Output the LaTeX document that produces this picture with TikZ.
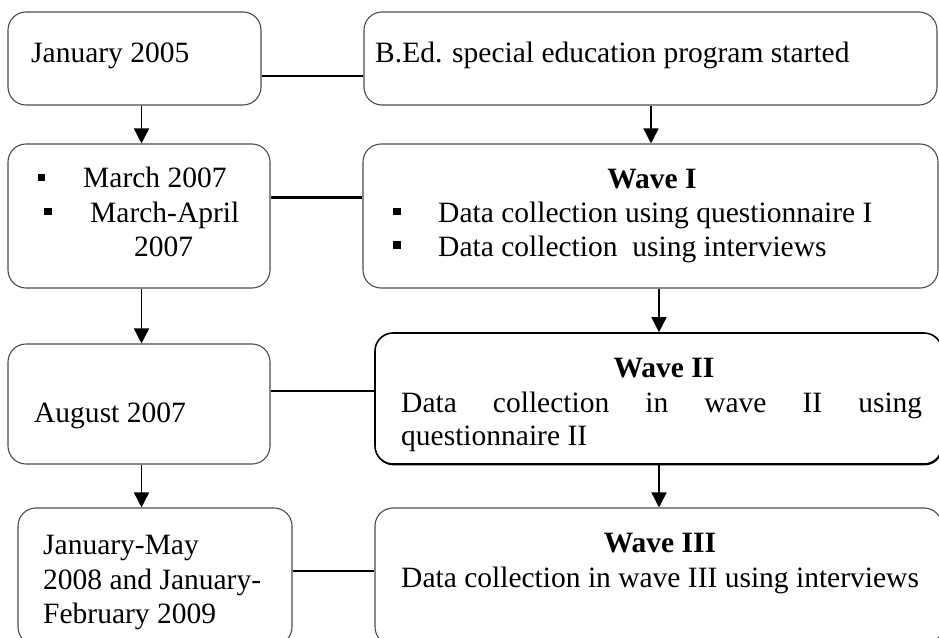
\documentclass[tikz,border=0pt]{standalone}
\usepackage{fontspec}
\setmainfont{Liberation Serif}
\usetikzlibrary{arrows.meta,shadows}
\begin{document}
\begin{tikzpicture}[x=1pt,y=-1pt,
  box/.style={draw=black!70, fill=white, line width=1.1pt, rounded corners=18pt, inner sep=0pt},
  txt/.style={anchor=base west, inner sep=0pt, font=\fontsize{29.5}{34.5}\selectfont},
  ttl/.style={anchor=base, inner sep=0pt, font=\fontsize{29.5}{34.5}\selectfont\bfseries},
  bul/.style={fill=black, inner sep=0pt, minimum size=7.5pt},
  arr/.style={-{Triangle[width=15pt,length=15pt]}, line width=1.6pt},
  link/.style={line width=1.2pt}]
\useasboundingbox (0,0) rectangle (939,637);
% boxes
\node[box, minimum width=253pt, minimum height=93pt] (jan) at (134.5,58.5) {};
\node[box, minimum width=573pt, minimum height=93pt] (bed) at (650.5,58.5) {};
\node[box, minimum width=262pt, minimum height=144pt] (mar) at (139,216) {};
\node[box, minimum width=575pt, minimum height=144pt] (w1) at (650.5,216) {};
\node[box, minimum width=262pt, minimum height=120pt] (aug) at (139,404) {};
\node[box, draw=black, line width=1.6pt, minimum width=567pt, minimum height=131pt,
      drop shadow={shadow xshift=0.6pt, shadow yshift=-1.4pt, fill=black, opacity=1}] (w2) at (658.5,398.5) {};
\node[box, minimum width=274pt, minimum height=137pt] (jm) at (155,576.5) {};
\node[box, minimum width=567pt, minimum height=137pt] (w3) at (658.5,576.5) {};
% helper coordinates
\coordinate (cL) at (141.5,0);
\coordinate (cR1) at (651,0);
\coordinate (cR) at (659,0);
\coordinate (r1) at (0,76);
\coordinate (r2) at (0,197);
\coordinate (r3) at (0,391);
\coordinate (r4) at (0,571);
% vertical arrows
\draw[arr] (jan.south -| cL) -- (mar.north -| cL);
\draw[arr] (mar.south -| cL) -- (aug.north -| cL);
\draw[arr] (aug.south -| cL) -- (jm.north -| cL);
\draw[arr] (bed.south -| cR1) -- (w1.north -| cR1);
\draw[arr] (w1.south -| cR) -- (w2.north -| cR);
\draw[arr] (w2.south -| cR) -- (w3.north -| cR);
% horizontal links
\draw[link] (jan.east |- r1) -- (bed.west |- r1);
\draw[line width=3pt] (mar.east |- r2) -- (w1.west |- r2);
\draw[link] (aug.east |- r3) -- (w2.west |- r3);
\draw[link] (jm.east |- r4) -- (w3.west |- r4);
% texts
\node[txt] (tjan) at (31,62) {January 2005};
\node[txt] (tbed) at (375,62) {B.Ed. special education program started};
\node[bul] (bm1) at (41.5,177.5) {};
\node[bul] (bm2) at (48,211.5) {};
\node[txt] (tm1) at (83,187) {March 2007};
\node[txt] (tm2) at (90,222) {March-April};
\node[txt] (tm3) at (134,256) {2007};
\node[ttl] (tw1) at (652,188) {Wave I};
\node[bul] (bw1) at (397,211.5) {};
\node[bul] (bw2) at (397,245) {};
\node[txt] (tw1a) at (438,222) {Data collection using questionnaire I};
\node[txt] (tw1b) at (438,256) {Data collection~ using interviews};
\node[txt] (taug) at (34,422) {August 2007};
\node[ttl] (tw2) at (664,377) {Wave II};
\node[txt] (tw2a) at (401,412) {\makebox[521pt][s]{Data collection in wave II using}};
\node[txt] (tw2b) at (401,445) {questionnaire II};
\node[txt] (tjm1) at (43,554) {January-May};
\node[txt] (tjm2) at (43,589) {2008 and January-};
\node[txt] (tjm3) at (43,623) {February 2009};
\node[ttl] (tw3) at (660,552) {Wave III};
\node[txt] (tw3a) at (401,587) {Data collection in wave III using interviews};
\end{tikzpicture}
\end{document}
